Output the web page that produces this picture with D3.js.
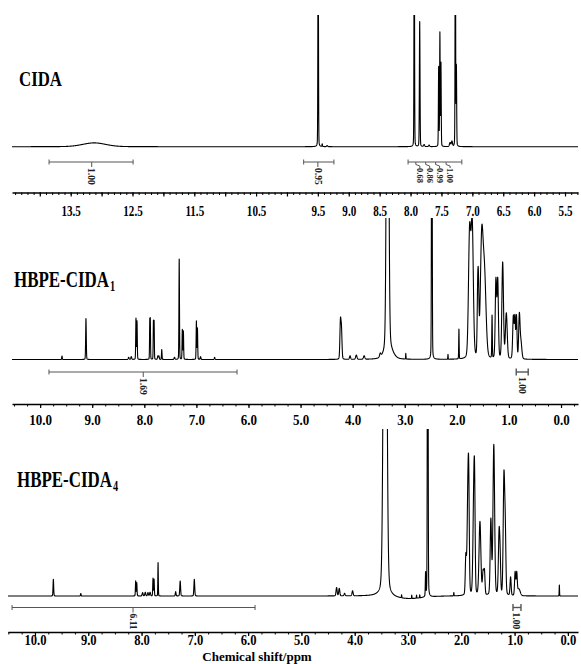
<!DOCTYPE html>
<html><head><meta charset="utf-8">
<script src="https://cdn.jsdelivr.net/npm/d3@7"></script>
<style>
html,body{margin:0;padding:0;background:#fff;}
svg{display:block;font-family:"Liberation Serif","Times New Roman",serif;}
</style></head><body>
<svg id="c" width="581" height="664"></svg>
<script>
// ---------------- DATA ----------------
const titles = [["CIDA", ""], ["HBPE-CIDA", "1"], ["HBPE-CIDA", "4"]];
const xAxisTitle = "Chemical shift/ppm";

const p1TickLabels = [13.5, 12.5, 11.5, 10.5, 9.5, 9.0, 8.5, 8.0, 7.5, 7.0, 6.5, 6.0, 5.5];
const p2TickLabels = [10, 9, 8, 7, 6, 5, 4, 3, 2, 1, 0];
const p3TickLabels = [10, 9, 8, 7, 6, 5, 4, 3, 2, 1, 0];

// peaks: [shift ppm, height (% of panel height), half width ppm]
const p1Peaks = [
  [13.12, 2.9, 0.22],
  [9.495, 200, 0.005], [9.43, 2.0, 0.005], [9.35, 0.8, 0.01],
  [7.94, 200, 0.005], [7.852, 95, 0.006], [7.78, 1.5, 0.01], [7.70, 1.2, 0.01],
  [7.545, 60, 0.005], [7.525, 86, 0.005], [7.508, 63, 0.005],
  [7.36, 3, 0.012], [7.33, 4, 0.01],
  [7.275, 200, 0.005], [7.258, 60, 0.005]
];
const p2Peaks = [
  [9.58, 2.5, 0.006], [9.12, 29, 0.007], [8.30, 1.5, 0.01], [8.25, 2, 0.01],
  [8.16, 29, 0.006], [8.14, 27, 0.006],
  [7.895, 27, 0.005], [7.885, 27, 0.005], [7.825, 27, 0.005], [7.812, 27, 0.005],
  [7.74, 2.5, 0.008], [7.72, 2.5, 0.008], [7.665, 7, 0.006], [7.42, 1.5, 0.01],
  [7.33, 71, 0.006], [7.27, 21, 0.006], [7.25, 20, 0.006],
  [7.00, 27, 0.006], [6.98, 22, 0.006], [6.92, 2, 0.008], [6.65, 1.5, 0.008],
  [4.235, 26, 0.012], [4.215, 20, 0.012], [4.05, 2.5, 0.012], [3.93, 3, 0.015],
  [3.78, 2.5, 0.015], [3.47, 2.5, 0.015],
  [3.33, 400, 0.022], [3.33, 4, 0.08], [3.27, 3, 0.08],
  [2.98, 4, 0.004], [2.48, 300, 0.007], [2.17, 3.5, 0.004], [1.96, 21, 0.005],
  [1.755, 88, 0.025], [1.705, 93, 0.025],
  [1.60, 40, 0.012], [1.585, 40, 0.012],
  [1.523, 80, 0.03], [1.47, 58, 0.035],
  [1.324, 30, 0.006],
  [1.25, 55, 0.015], [1.215, 55, 0.015],
  [1.12, 68, 0.018], [1.05, 32, 0.02],
  [0.915, 30, 0.015], [0.885, 28, 0.012], [0.855, 30, 0.012], [0.80, 30, 0.015], [0.77, 12, 0.02]
];
const p3Peaks = [
  [9.655, 10, 0.007], [9.14, 1.5, 0.006], [8.11, 9, 0.006], [8.09, 8, 0.006],
  [7.98, 2, 0.01], [7.93, 2.2, 0.01], [7.88, 2, 0.01], [7.84, 2.2, 0.01],
  [7.785, 10.5, 0.006], [7.765, 10, 0.006], [7.69, 20, 0.005],
  [7.36, 2.6, 0.008], [7.275, 9, 0.009], [7.01, 10, 0.009],
  [4.34, 5, 0.012], [4.29, 4.5, 0.012], [4.19, 1.5, 0.012], [4.04, 3, 0.012],
  [3.43, 420, 0.03], [3.0, -1.8, 0.35],
  [3.12, 1.8, 0.004], [2.93, 2, 0.004], [2.84, 1.8, 0.004], [2.78, 1.8, 0.004],
  [2.67, 14, 0.006], [2.63, 350, 0.007], [2.14, 2, 0.004],
  [1.915, 22, 0.012], [1.875, 62, 0.018], [1.86, 40, 0.012], [1.765, 60, 0.018], [1.75, 40, 0.012],
  [1.65, 44, 0.02], [1.59, 14, 0.015], [1.565, 13, 0.012],
  [1.445, 45, 0.015], [1.39, 90, 0.018], [1.29, 38, 0.016], [1.27, 14, 0.012],
  [1.20, 70, 0.016], [1.175, 35, 0.014], [1.075, 11, 0.012],
  [0.99, 14, 0.012], [0.96, 13, 0.012], [0.92, 4, 0.03],
  [0.16, 6.6, 0.004]
];

// integrals: [from ppm, to ppm, mark ppm list, label list]
const p1Integrals = [
  [13.85, 12.49, [13.16], ["1.00"]],
  [9.73, 9.24, [9.5], ["0.95"]],
  [8.04, 7.17, [7.85, 7.69, 7.53, 7.36], ["0.68", "0.86", "0.99", "1.00"]]
];
const p2Integrals = [
  [9.83, 6.22, [8.02], ["1.69"]],
  [0.86, 0.63, [0.75], ["1.00"]]
];
const p3Integrals = [
  [10.43, 5.87, [8.16], ["6.11"]],
  [1.03, 0.88, [0.96], ["1.00"]]
];

// ---------------- LAYOUT ----------------
const panels = [
  {peaks: p1Peaks, ticks: p1TickLabels, integrals: p1Integrals, title: titles[0],
   xRange: [12, 578], domain: [14.45, 5.29], baseY: 146.7, topY: 15, axisY: 192.5,
   labelY: 23.5, labelSize: 15, labelScale: 0.74, minorStep: 0.1, majorStep: 0.5,
   intY: 162, titleX: 19, titleY: 86, titleSize: 21, titleLen: 43},
  {peaks: p2Peaks, ticks: p2TickLabels, integrals: p2Integrals, title: titles[1],
   xRange: [12, 578], domain: [10.54, -0.326], baseY: 359.5, topY: 218, axisY: 404,
   labelY: 21, labelSize: 14, labelScale: 0.93, minorStep: 0.25, majorStep: 1,
   intY: 372, titleX: 14, titleY: 287, titleSize: 23, titleLen: 95},
  {peaks: p3Peaks, ticks: p3TickLabels, integrals: p3Integrals, title: titles[2],
   xRange: [8, 578], domain: [10.506, -0.19], baseY: 596, topY: 429, axisY: 632,
   labelY: 13.5, labelSize: 14, labelScale: 0.9, minorStep: 0.25, majorStep: 1,
   intY: 607.5, titleX: 17, titleY: 487, titleSize: 23, titleLen: 95}
];

const svg = d3.select("#c");
svg.append("rect").attr("width", 581).attr("height", 664).attr("fill", "#fff");

function shape(d, w) {
  const t = (d / w) * (d / w);
  return 0.85 * Math.exp(-Math.LN2 * t) + 0.15 / (1 + t);
}

panels.forEach((P, i) => {
  const x = d3.scaleLinear().domain(P.domain).range(P.xRange);
  const y = d3.scaleLinear().domain([0, 100]).range([P.baseY, P.topY]);
  const g = svg.append("g");

  // spectrum samples
  const n = Math.round((P.xRange[1] - P.xRange[0]) * 8);
  const vals = d3.range(n + 1).map(k => P.domain[0] + (P.domain[1] - P.domain[0]) * k / n);
  P.peaks.forEach(p => { if (p[0] <= P.domain[0] && p[0] >= P.domain[1]) vals.push(p[0]); });
  vals.sort((a, b) => b - a);
  const pts = vals.map(v => [v, d3.sum(P.peaks, p => p[1] * shape(v - p[0], p[2]))]);

  const clipId = "clip" + i;
  svg.append("clipPath").attr("id", clipId).append("rect")
    .attr("x", P.xRange[0]).attr("y", P.topY)
    .attr("width", P.xRange[1] - P.xRange[0]).attr("height", P.baseY - P.topY + 20);

  g.append("path").datum(pts)
    .attr("clip-path", `url(#${clipId})`)
    .attr("fill", "none").attr("stroke", "#000").attr("stroke-width", 1.1)
    .attr("stroke-linejoin", "round")
    .attr("d", d3.line().x(d => x(d[0])).y(d => y(d[1])));

  // axis: minor ticks
  const lo = Math.ceil(P.domain[1] / P.minorStep) * P.minorStep;
  const minors = d3.range(Math.round((P.domain[0] - lo) / P.minorStep) + 1).map(k => +(lo + k * P.minorStep).toFixed(3))
    .filter(v => v <= P.domain[0] && v >= P.domain[1]);
  const majors = minors.filter(v => Math.abs(v / P.majorStep - Math.round(v / P.majorStep)) < 1e-6);

  const axMinor = g.append("g").attr("transform", `translate(0,${P.axisY})`)
    .call(d3.axisBottom(x).tickValues(minors).tickSize(2.5).tickSizeOuter(0).tickFormat(""));
  axMinor.select(".domain").attr("stroke-width", 1.4).attr("stroke", "#000");
  axMinor.selectAll(".tick line").attr("stroke", "#000").attr("stroke-width", 1);

  const axMajor = g.append("g").attr("transform", `translate(0,${P.axisY})`)
    .call(d3.axisBottom(x).tickValues(majors).tickSize(4).tickSizeOuter(0).tickFormat(""));
  axMajor.select(".domain").remove();
  axMajor.selectAll(".tick line").attr("stroke", "#000").attr("stroke-width", 1.2);

  const axLab = g.append("g").attr("transform", `translate(0,${P.axisY})`)
    .call(d3.axisBottom(x).tickValues(P.ticks).tickSize(0).tickFormat(d3.format(".1f")));
  axLab.select(".domain").remove();
  axLab.selectAll(".tick text")
    .attr("y", P.labelY).attr("dy", 0)
    .attr("transform", `scale(${P.labelScale},1)`)
    .attr("font-family", "'Liberation Serif','Times New Roman',serif")
    .attr("font-weight", "bold").attr("font-size", P.labelSize).attr("fill", "#000");

  // integrals
  P.integrals.forEach(it => {
    const [from, to, marks, labels] = it;
    const x0 = x(from), x1 = x(to), yb = P.intY;
    const small = (x1 - x0) < 20;
    const eh = small ? 3.5 : 2.5;
    const gi = g.append("g").attr("stroke", "#555").attr("stroke-width", small ? 1.4 : 1).attr("fill", "none");
    gi.append("line").attr("x1", x0).attr("x2", x1).attr("y1", yb).attr("y2", yb);
    gi.append("line").attr("x1", x0).attr("x2", x0).attr("y1", yb - eh).attr("y2", yb + eh);
    gi.append("line").attr("x1", x1).attr("x2", x1).attr("y1", yb - eh).attr("y2", yb + eh);
    marks.forEach((m, k) => {
      const xm = x(m);
      if (marks.length > 1) {
        gi.append("path").attr("d", `M${xm - 4},${yb} L${xm - 4},${yb + 2.5} L${xm},${yb + 4} L${xm},${yb + 6}`);
      } else if (!small) {
        gi.append("line").attr("x1", xm).attr("x2", xm).attr("y1", yb).attr("y2", yb + 5);
      }
      g.append("text")
        .attr("transform", `translate(${xm},${yb + (small ? 5 : 6)}) rotate(90)`)
        .attr("dy", "0.35em")
        .attr("font-family", "'Liberation Serif','Times New Roman',serif")
        .attr("font-weight", "bold").attr("font-size", marks.length > 1 ? 8.5 : 9.5).attr("fill", "#222")
        .text(labels[k]);
    });
  });

  // title (single text element, subscript as tspan, condensed by horizontal scale)
  const tg = g.append("g");
  const tt = tg.append("text")
    .attr("font-family", "'Liberation Serif','Times New Roman',serif")
    .attr("font-weight", "bold").attr("font-size", P.titleSize).attr("fill", "#000");
  tt.append("tspan").text(P.title[0]);
  if (P.title[1]) {
    tt.append("tspan").attr("dx", 1.5).attr("dy", 4).attr("font-size", 14).text(P.title[1]);
  }
  const mainW = tt.node().getSubStringLength(0, P.title[0].length);
  const sx = P.titleLen / mainW;
  tg.attr("transform", `translate(${P.titleX},${P.titleY}) scale(${sx},1)`);
});

svg.append("text").attr("x", 257).attr("y", 660.6).attr("text-anchor", "middle")
  .attr("font-family", "'Liberation Serif','Times New Roman',serif")
  .attr("font-weight", "bold").attr("font-size", 13).attr("fill", "#000")
  .text(xAxisTitle);
</script>
</body></html>
